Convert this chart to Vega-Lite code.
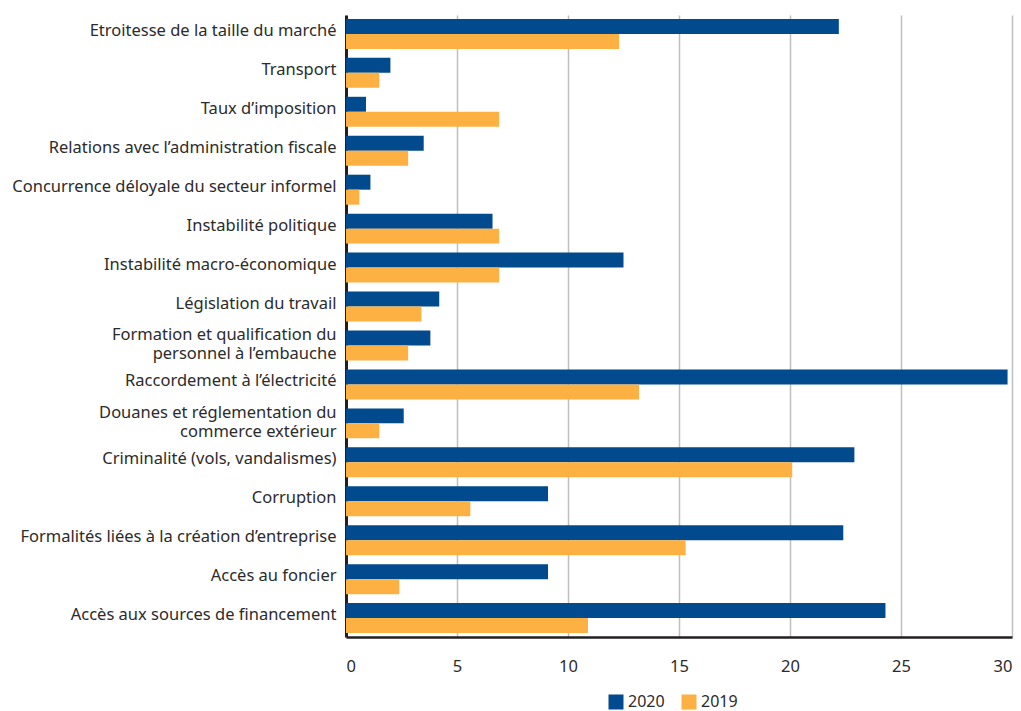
{
  "$schema": "https://vega.github.io/schema/vega-lite/v6.json",
  "width": 666,
  "height": 622,
  "autosize": "none",
  "padding": {"left": 346, "top": 15, "right": 9, "bottom": 74},
  "background": "white",
  "data": {
    "values": [
      {"cat": "Etroitesse de la taille du marché", "year": "2020", "value": 22.2},
      {"cat": "Etroitesse de la taille du marché", "year": "2019", "value": 12.3},
      {"cat": "Transport", "year": "2020", "value": 2.0},
      {"cat": "Transport", "year": "2019", "value": 1.5},
      {"cat": "Taux d’imposition", "year": "2020", "value": 0.9},
      {"cat": "Taux d’imposition", "year": "2019", "value": 6.9},
      {"cat": "Relations avec l’administration fiscale", "year": "2020", "value": 3.5},
      {"cat": "Relations avec l’administration fiscale", "year": "2019", "value": 2.8},
      {"cat": "Concurrence déloyale du secteur informel", "year": "2020", "value": 1.1},
      {"cat": "Concurrence déloyale du secteur informel", "year": "2019", "value": 0.6},
      {"cat": "Instabilité politique", "year": "2020", "value": 6.6},
      {"cat": "Instabilité politique", "year": "2019", "value": 6.9},
      {"cat": "Instabilité macro-économique", "year": "2020", "value": 12.5},
      {"cat": "Instabilité macro-économique", "year": "2019", "value": 6.9},
      {"cat": "Législation du travail", "year": "2020", "value": 4.2},
      {"cat": "Législation du travail", "year": "2019", "value": 3.4},
      {"cat": "Formation et qualification du personnel à l’embauche", "year": "2020", "value": 3.8},
      {"cat": "Formation et qualification du personnel à l’embauche", "year": "2019", "value": 2.8},
      {"cat": "Raccordement à l’électricité", "year": "2020", "value": 29.8},
      {"cat": "Raccordement à l’électricité", "year": "2019", "value": 13.2},
      {"cat": "Douanes et réglementation du commerce extérieur", "year": "2020", "value": 2.6},
      {"cat": "Douanes et réglementation du commerce extérieur", "year": "2019", "value": 1.5},
      {"cat": "Criminalité (vols, vandalismes)", "year": "2020", "value": 22.9},
      {"cat": "Criminalité (vols, vandalismes)", "year": "2019", "value": 20.1},
      {"cat": "Corruption", "year": "2020", "value": 9.1},
      {"cat": "Corruption", "year": "2019", "value": 5.6},
      {"cat": "Formalités liées à la création d’entreprise", "year": "2020", "value": 22.4},
      {"cat": "Formalités liées à la création d’entreprise", "year": "2019", "value": 15.3},
      {"cat": "Accès au foncier", "year": "2020", "value": 9.1},
      {"cat": "Accès au foncier", "year": "2019", "value": 2.4},
      {"cat": "Accès aux sources de financement", "year": "2020", "value": 24.3},
      {"cat": "Accès aux sources de financement", "year": "2019", "value": 10.9}
    ]
  },
  "mark": {"type": "bar"},
  "encoding": {
    "y": {
      "field": "cat",
      "type": "nominal",
      "sort": null,
      "scale": {"paddingInner": 0.23, "paddingOuter": 0.1},
      "axis": {
        "title": null,
        "ticks": false,
        "labelPadding": 10,
        "labelLimit": 400,
        "domainColor": "#231f20",
        "domainWidth": 3,
        "labelExpr": "datum.value == 'Formation et qualification du personnel à l’embauche' ? ['Formation et qualification du', 'personnel à l’embauche'] : datum.value == 'Douanes et réglementation du commerce extérieur' ? ['Douanes et réglementation du', 'commerce extérieur'] : datum.value",
        "labelLineHeight": 19,
        "labelOffset": {"condition": {"test": "indexof(datum.value, 'Formation') == 0 || indexof(datum.value, 'Douanes') == 0", "value": -10}, "value": -3}
      }
    },
    "yOffset": {"field": "year", "type": "nominal", "sort": ["2020", "2019"]},
    "x": {
      "field": "value",
      "type": "quantitative",
      "scale": {"domain": [0, 30], "nice": false},
      "axis": {
        "title": null,
        "values": [0, 5, 10, 15, 20, 25, 30],
        "ticks": false,
        "labelPadding": 21,
        "domainColor": "#231f20",
        "domainWidth": 2.5,
        "grid": true,
        "gridColor": "#bfbfbf",
        "gridWidth": 1.5
      }
    },
    "color": {
      "field": "year",
      "type": "nominal",
      "scale": {"domain": ["2020", "2019"], "range": ["#004a8d", "#fdb142"]},
      "legend": {
        "title": null,
        "orient": "none",
        "direction": "horizontal",
        "legendX": 262,
        "legendY": 679,
        "symbolType": "square",
        "symbolSize": 225,
        "symbolStrokeWidth": 0,
        "columnPadding": 16,
        "labelOffset": 4
      }
    }
  },
  "config": {
    "view": {"stroke": null},
    "font": "Noto Sans",
    "axis": {"labelFont": "Noto Sans", "labelFontSize": 16.5, "labelColor": "#2b2b2b"},
    "legend": {"labelFont": "Noto Sans", "labelFontSize": 16, "labelColor": "#2b2b2b"}
  }
}
